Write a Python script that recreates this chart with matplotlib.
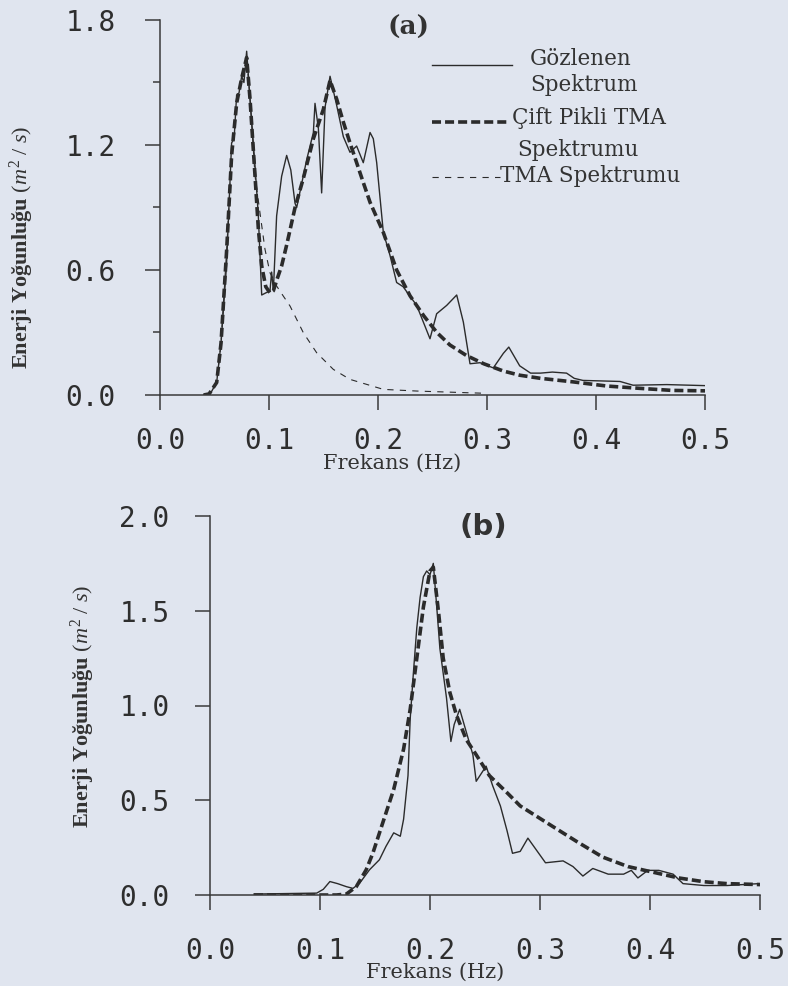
import matplotlib
matplotlib.use("Agg")
import matplotlib.pyplot as plt
from matplotlib.lines import Line2D

# --- (a) Gözlenen spektrum ---
freq_obs_a = [0.040, 0.046, 0.052, 0.056, 0.061, 0.0657, 0.068, 0.0703, 0.0725, 0.0749,
              0.077, 0.0795, 0.0826, 0.0872, 0.0902, 0.0933, 0.097, 0.1009, 0.1024, 0.104,
              0.107, 0.1116, 0.1162, 0.120, 0.1239, 0.1254, 0.1346, 0.1407, 0.1422, 0.1453,
              0.1483, 0.1514, 0.156, 0.1621, 0.1682, 0.1743, 0.1804, 0.1865, 0.1927, 0.1957,
              0.1988, 0.2049, 0.211, 0.2171, 0.223, 0.2355, 0.2477, 0.2538, 0.263, 0.2722,
              0.2783, 0.2844, 0.2936, 0.3058, 0.315, 0.32, 0.33, 0.34, 0.349, 0.36,
              0.373, 0.38, 0.388, 0.422, 0.434, 0.465, 0.50]
obs_a = [0.0, 0.005, 0.06, 0.25, 0.62, 1.21, 1.23, 1.44, 1.45, 1.53,
         1.50, 1.65, 1.42, 1.10, 0.86, 0.48, 0.49, 0.50, 0.59, 0.50,
         0.86, 1.05, 1.15, 1.08, 0.92, 0.90, 1.13, 1.26, 1.40, 1.28,
         0.97, 1.38, 1.53, 1.39, 1.24, 1.165, 1.195, 1.115, 1.26, 1.23,
         1.115, 0.78, 0.67, 0.54, 0.52, 0.43, 0.27, 0.39, 0.43, 0.48,
         0.35, 0.15, 0.155, 0.13, 0.20, 0.23, 0.14, 0.105, 0.105, 0.11,
         0.105, 0.08, 0.07, 0.065, 0.047, 0.05, 0.045]

# --- (a) Çift pikli TMA spektrumu ---
freq_dp_a = [0.040, 0.045, 0.052, 0.056, 0.0612, 0.0657, 0.0703, 0.0749, 0.0795, 0.0826,
             0.0872, 0.0902, 0.0933, 0.097, 0.1009, 0.104, 0.107, 0.1116, 0.1162, 0.1239,
             0.1315, 0.1407, 0.1498, 0.156, 0.1621, 0.1682, 0.1743, 0.1804, 0.1865, 0.1927,
             0.2049, 0.2171, 0.2294, 0.242, 0.254, 0.266, 0.281, 0.297, 0.315, 0.33,
             0.349, 0.379, 0.41, 0.44, 0.47, 0.50]
dp_a = [0.0, 0.005, 0.06, 0.25, 0.70, 1.15, 1.40, 1.52, 1.62, 1.42,
        1.05, 0.80, 0.62, 0.52, 0.49, 0.50, 0.55, 0.62, 0.72, 0.90,
        1.04, 1.23, 1.37, 1.51, 1.42, 1.31, 1.21, 1.115, 1.02, 0.925,
        0.78, 0.60, 0.476, 0.38, 0.30, 0.24, 0.19, 0.15, 0.115, 0.095,
        0.08, 0.063, 0.043, 0.032, 0.022, 0.02]

# --- (a) TMA spektrumu ---
freq_tma_a = [0.040, 0.045, 0.052, 0.056, 0.0612, 0.0657, 0.0703, 0.0749, 0.0795, 0.0826,
              0.0872, 0.0917, 0.0963, 0.1009, 0.107, 0.1131, 0.1193, 0.1254, 0.1315, 0.1376,
              0.1437, 0.159, 0.1743, 0.1896, 0.2049, 0.2355, 0.2814, 0.30]
tma_a = [0.0, 0.005, 0.06, 0.25, 0.70, 1.15, 1.40, 1.52, 1.62, 1.42,
         1.05, 0.875, 0.70, 0.587, 0.523, 0.475, 0.427, 0.363, 0.299, 0.251,
         0.203, 0.123, 0.075, 0.051, 0.027, 0.019, 0.011, 0.008]

# --- (b) Gözlenen spektrum ---
freq_obs_b = [0.040, 0.097, 0.103, 0.109, 0.116, 0.124, 0.130, 0.136, 0.145, 0.154,
              0.160, 0.167, 0.173, 0.176, 0.180, 0.182, 0.185, 0.188, 0.191, 0.194,
              0.197, 0.200, 0.203, 0.206, 0.209, 0.215, 0.219, 0.222, 0.227, 0.233,
              0.239, 0.242, 0.251, 0.257, 0.264, 0.270, 0.275, 0.282, 0.289, 0.305,
              0.321, 0.330, 0.339, 0.348, 0.362, 0.376, 0.383, 0.389, 0.398, 0.408,
              0.421, 0.430, 0.449, 0.470, 0.499]
obs_b = [0.005, 0.01, 0.03, 0.071, 0.06, 0.044, 0.035, 0.062, 0.133, 0.186,
         0.257, 0.328, 0.31, 0.40, 0.63, 0.93, 1.18, 1.41, 1.57, 1.68,
         1.71, 1.69, 1.75, 1.53, 1.30, 1.04, 0.81, 0.90, 0.98, 0.86,
         0.74, 0.60, 0.68, 0.576, 0.47, 0.34, 0.22, 0.23, 0.30, 0.17,
         0.18, 0.15, 0.10, 0.14, 0.11, 0.11, 0.13, 0.09, 0.13, 0.13,
         0.11, 0.06, 0.05, 0.05, 0.06]

# --- (b) TMA spektrumu ---
freq_dp_b = [0.040, 0.115, 0.124, 0.133, 0.142, 0.148, 0.157, 0.167, 0.176, 0.182,
             0.188, 0.194, 0.200, 0.203, 0.208, 0.212, 0.218, 0.224, 0.233, 0.242,
             0.254, 0.270, 0.282, 0.312, 0.334, 0.357, 0.380, 0.403, 0.426, 0.449,
             0.470, 0.500]
dp_b = [0.0, 0.0, 0.005, 0.044, 0.133, 0.22, 0.38, 0.557, 0.77, 0.98,
        1.25, 1.52, 1.71, 1.73, 1.48, 1.25, 1.07, 0.95, 0.82, 0.74,
        0.63, 0.54, 0.47, 0.36, 0.28, 0.20, 0.15, 0.12, 0.09, 0.07,
        0.06, 0.055]

xticks = [0.0, 0.1, 0.2, 0.3, 0.4, 0.5]
xtick_labels = ["0.0", "0.1", "0.2", "0.3", "0.4", "0.5"]
yticks_a = [0.0, 0.6, 1.2, 1.8]
yticks_a_minor = [0.3, 0.9, 1.5]
yticks_b = [0.0, 0.5, 1.0, 1.5, 2.0]

legend_labels = ["Gözlenen\nSpektrum", "Çift Pikli TMA", "Spektrumu", "TMA Spektrumu"]

bg = "#e0e5ef"
ink = "#2b2b2b"
W, H = 788, 986

plt.rcParams["lines.scale_dashes"] = False
plt.rcParams["mathtext.fontset"] = "custom"
plt.rcParams["mathtext.it"] = "Liberation Serif:italic"
plt.rcParams["mathtext.rm"] = "Liberation Serif"

fig = plt.figure(figsize=(W / 100, H / 100), dpi=100, facecolor=bg)


def fx(px):
    return px / W


def fy(py):
    return 1 - py / H


thick_dash = (0, (6.5, 2.9))
thin_dash = (0, (4.5, 4.5))


def style_axes(ax, ypad, xpad):
    ax.set_facecolor(bg)
    for s in ["top", "right"]:
        ax.spines[s].set_visible(False)
    for s in ["left", "bottom"]:
        ax.spines[s].set_color("#3a3a3a")
        ax.spines[s].set_linewidth(1.1)
    ax.tick_params(axis="both", which="major", direction="out", length=11,
                   width=1.1, color="#3a3a3a", labelcolor="#2e2e2e", labelsize=20)
    ax.tick_params(axis="y", which="minor", direction="out", length=5,
                   width=1.1, color="#3a3a3a")
    ax.tick_params(axis="y", pad=ypad)
    ax.tick_params(axis="x", pad=xpad)
    for lab in ax.get_xticklabels() + ax.get_yticklabels():
        lab.set_family("DejaVu Sans Mono")


# ---------- (a) ----------
ax1 = fig.add_axes([fx(160), fy(395), fx(705) - fx(160), fy(20) - fy(395)])
ax1.plot(freq_tma_a, tma_a, color=ink, lw=0.8, linestyle=thin_dash)
ax1.plot(freq_obs_a, obs_a, color=ink, lw=1.0)
ax1.plot(freq_dp_a, dp_a, color=ink, lw=2.6, linestyle=thick_dash)
ax1.set_xlim(0, 0.5)
ax1.set_ylim(0, 1.8)
ax1.set_xticks(xticks)
ax1.set_xticklabels(xtick_labels)
ax1.set_yticks(yticks_a)
ax1.set_yticklabels(["%.1f" % v for v in yticks_a])
ax1.set_yticks(yticks_a_minor, minor=True)
style_axes(ax1, ypad=21, xpad=12)

# ---------- (b) ----------
ax2 = fig.add_axes([fx(210), fy(895), fx(760) - fx(210), fy(516) - fy(895)])
ax2.plot(freq_obs_b, obs_b, color=ink, lw=1.0)
ax2.plot(freq_dp_b, dp_b, color=ink, lw=2.6, linestyle=thick_dash)
ax2.set_xlim(0, 0.5)
ax2.set_ylim(0, 2.0)
ax2.set_xticks(xticks)
ax2.set_xticklabels(xtick_labels)
ax2.set_yticks(yticks_b)
ax2.set_yticklabels(["%.1f" % v for v in yticks_b])
style_axes(ax2, ypad=18, xpad=19)
for ax in (ax1, ax2):
    for lab in ax.get_xticklabels() + ax.get_yticklabels():
        lab.set_clip_on(False)

# ---------- titles / axis labels ----------
fig.text(fx(408), fy(27), "(a)", family="DejaVu Serif", weight="bold",
         fontsize=19, color="#333333", ha="center", va="center")
fig.text(fx(483), fy(527), "(b)", family="DejaVu Sans", weight="bold",
         fontsize=21, color="#333333", ha="center", va="center")

ylab = "Enerji Yoğunluğu $(m^2\\ /\\ s)$"
fig.text(fx(22), fy(247), ylab, rotation=90, family="Liberation Serif",
         weight="bold", fontsize=16, color="#333333", ha="center", va="center")
fig.text(fx(83), fy(706), ylab, rotation=90, family="Liberation Serif",
         weight="bold", fontsize=16, color="#333333", ha="center", va="center")

fig.text(fx(392), fy(463), "Frekans (Hz)", family="DejaVu Serif",
         fontsize=15, color="#333333", ha="center", va="center")
fig.text(fx(435), fy(972), "Frekans (Hz)", family="DejaVu Serif",
         fontsize=15, color="#333333", ha="center", va="center")

# ---------- legend (a) ----------
fig.add_artist(Line2D([fx(432), fx(512)], [fy(65), fy(65)], color=ink, lw=1.0))
fig.add_artist(Line2D([fx(432), fx(510)], [fy(122), fy(122)], color=ink, lw=2.6,
                      linestyle=thick_dash))
fig.add_artist(Line2D([fx(432), fx(500)], [fy(177), fy(177)], color=ink, lw=0.8,
                      linestyle=thin_dash))
leg_kw = dict(family="DejaVu Serif", fontsize=15.5, color="#333333", va="center", ha="left")
fig.text(fx(530), fy(72), legend_labels[0], linespacing=1.25, **leg_kw)
fig.text(fx(512), fy(118), legend_labels[1], **leg_kw)
fig.text(fx(517), fy(150), legend_labels[2], **leg_kw)
fig.text(fx(500), fy(176), legend_labels[3], **leg_kw)

fig.savefig("out.png", dpi=100, facecolor=bg)
